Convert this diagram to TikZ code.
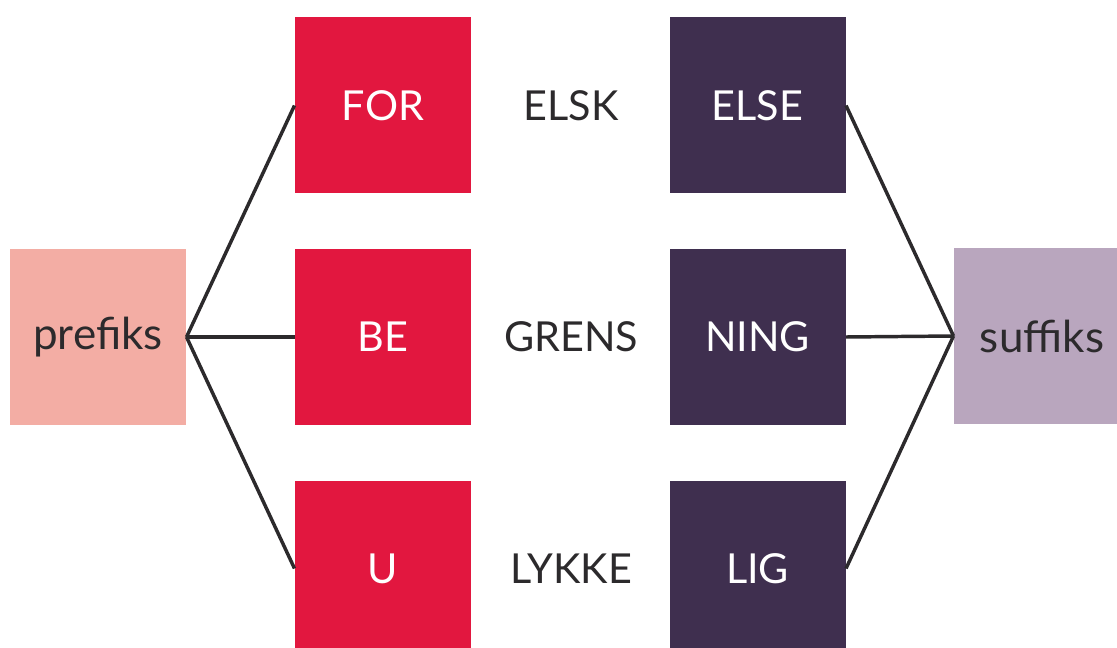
\documentclass[tikz,border=0pt]{standalone}
\usepackage{fontspec}
\setmainfont{Lato}
\definecolor{prefixred}{HTML}{E2173F}
\definecolor{suffixdark}{HTML}{3F2F4F}
\definecolor{prefixpink}{HTML}{F3ADA4}
\definecolor{suffixlilac}{HTML}{B9A6BE}
\definecolor{inkgray}{HTML}{2C2A2C}

\tikzset{every picture/.style={line width=0.75pt}}
\tikzset{
  morphbox/.style={rectangle, minimum width=132pt, minimum height=132pt, inner sep=0pt,
    font=\fontsize{31}{31}\selectfont},
  redbox/.style={morphbox, fill=prefixred, text=white},
  darkbox/.style={morphbox, fill=suffixdark, text=white},
  affixbox/.style={morphbox, text=inkgray, font=\fontsize{33}{33}\selectfont},
  stemword/.style={inner sep=0pt, text=inkgray, font=\fontsize{31}{31}\selectfont},
  branch/.style={draw=inkgray, line width=2.6pt},
}

\begin{document}
\begin{tikzpicture}[x=0.75pt,y=0.75pt,yscale=-1,xscale=1]
\useasboundingbox (0,0) rectangle (1117,648);
\clip (0,0) rectangle (1117,648);

%Shape: Rectangle [id:prefiks]
\draw (98,337) node [affixbox, fill=prefixpink] (prefiks) {prefiks};
%Shape: Rectangle [id:suffiks]
\draw (1042,336) node [affixbox, fill=suffixlilac] (suffiks) {suffiks};

%Shape: Rectangle [id:for]
\draw (383,105.5) node [redbox] (for) {FOR};
%Shape: Rectangle [id:be]
\draw (383,337) node [redbox] (be) {BE};
%Shape: Rectangle [id:u]
\draw (383,568.5) node [redbox] (u) {U};

%Shape: Rectangle [id:else]
\draw (757.5,105.5) node [darkbox] (else) {ELSE};
%Shape: Rectangle [id:ning]
\draw (757.5,337) node [darkbox] (ning) {NING};
%Shape: Rectangle [id:lig]
\draw (757.5,568.5) node [darkbox] (lig) {LIG};

% Text Node
\draw (571,105.5) node [stemword] (elsk) {ELSK};
% Text Node
\draw (571,337) node [stemword] (grens) {GRENS};
% Text Node
\draw (571,568.5) node [stemword] (lykke) {LYKKE};

%Straight Lines [id:prefiks-for]
\draw [branch] (prefiks.east) -- (for.west) ;
%Straight Lines [id:prefiks-be]
\draw [branch] (prefiks.east) -- (be.west) ;
%Straight Lines [id:prefiks-u]
\draw [branch] (prefiks.east) -- (u.west) ;
%Straight Lines [id:else-suffiks]
\draw [branch] (else.east) -- (suffiks.west) ;
%Straight Lines [id:ning-suffiks]
\draw [branch] (ning.east) -- (suffiks.west) ;
%Straight Lines [id:lig-suffiks]
\draw [branch] (lig.east) -- (suffiks.west) ;

\end{tikzpicture}
\end{document}
